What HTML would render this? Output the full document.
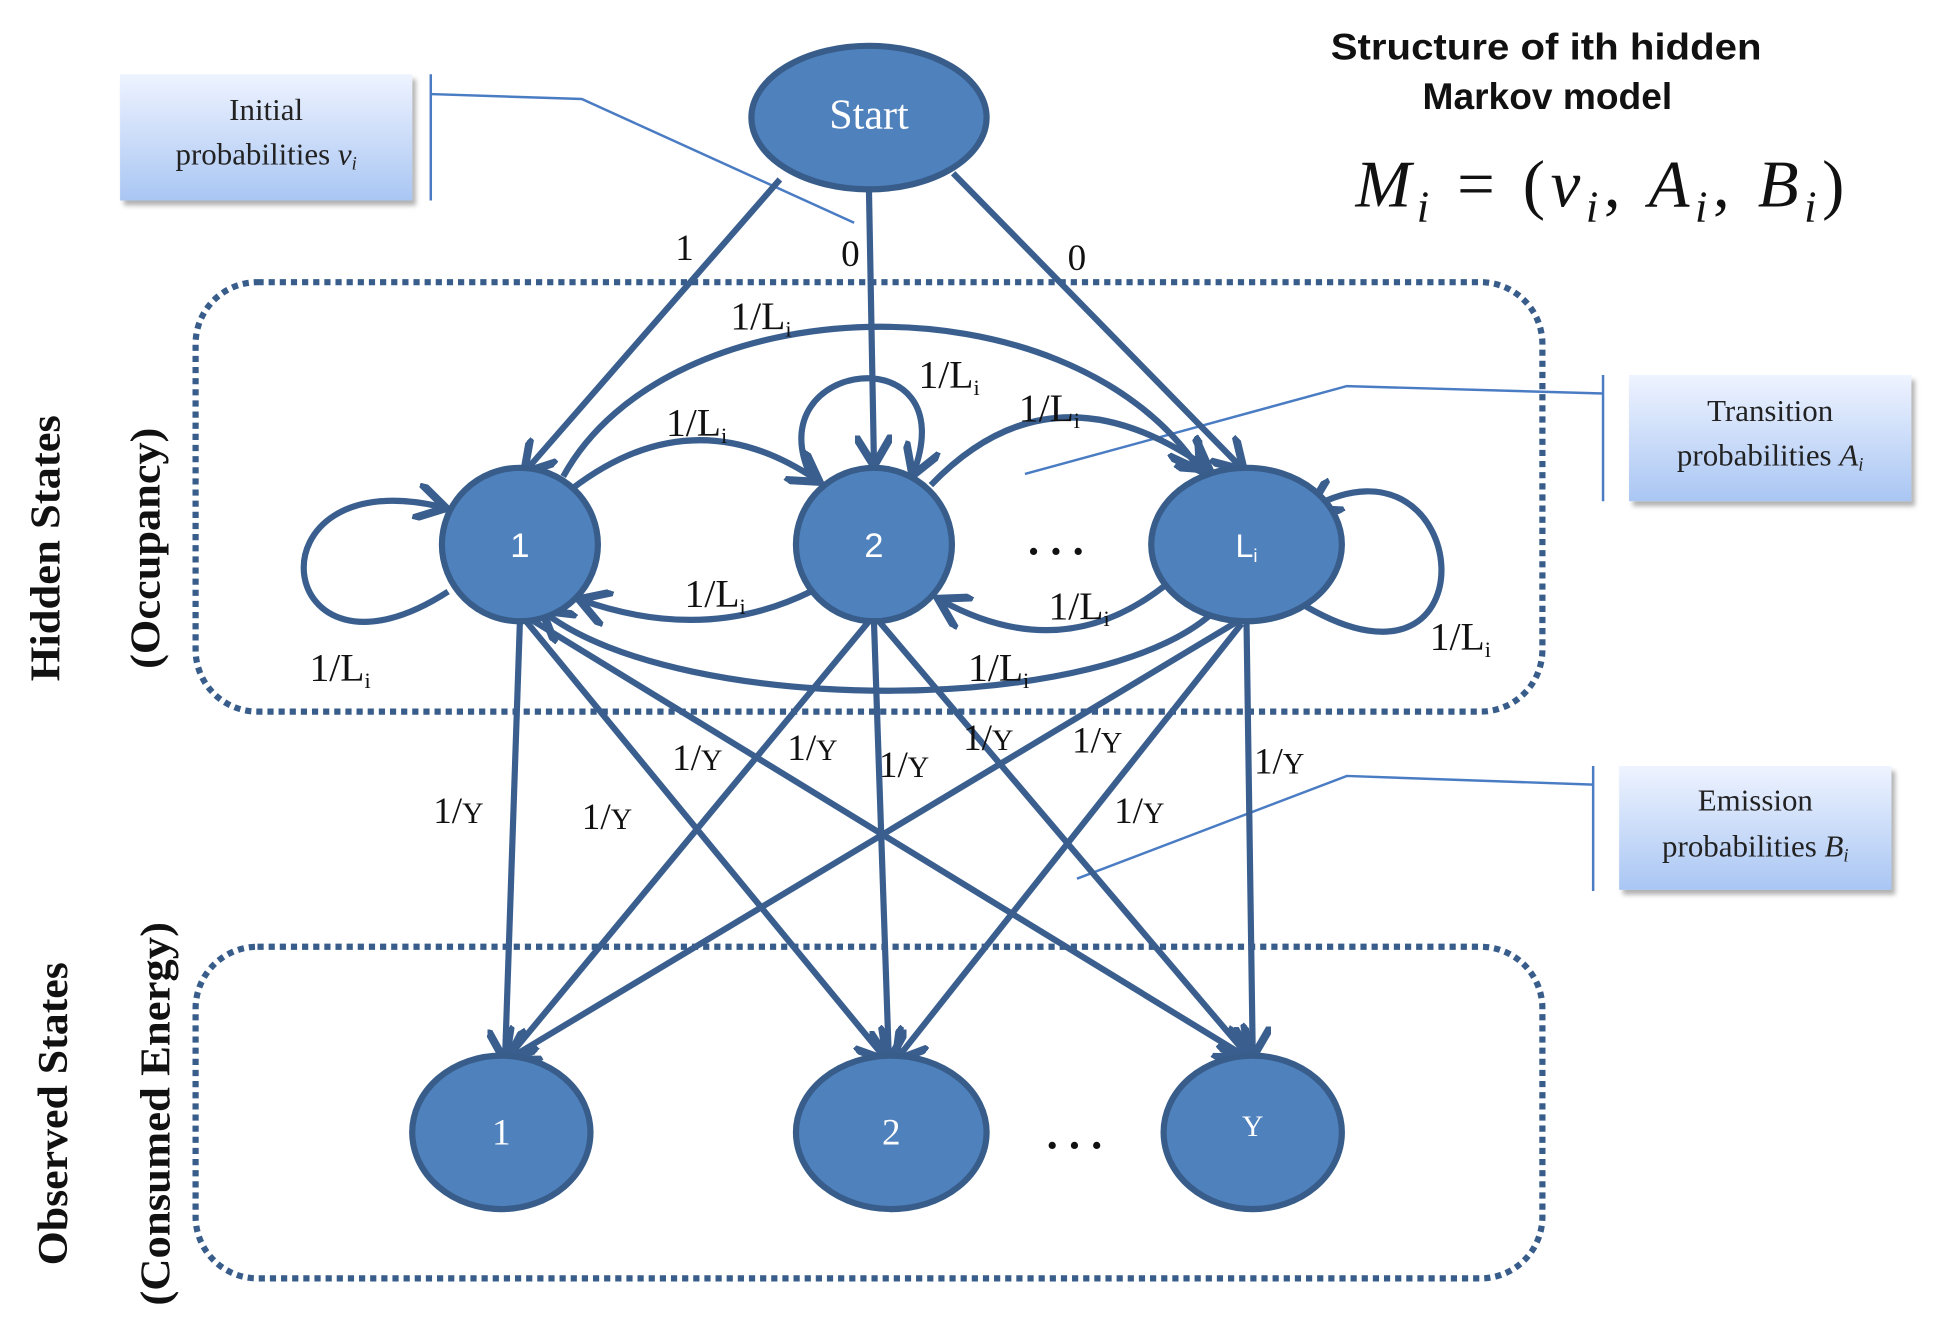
<!DOCTYPE html>
<html><head><meta charset="utf-8"><style>html,body{margin:0;padding:0;background:#fff}svg{display:block}</style></head>
<body>
<svg width="1941" height="1318" viewBox="0 0 1568 1065" preserveAspectRatio="none" xmlns="http://www.w3.org/2000/svg">
<defs>
<linearGradient id="g" x1="0" y1="0" x2="0" y2="1"><stop offset="0" stop-color="#eef3ff"/><stop offset="1" stop-color="#a9c6f3"/></linearGradient>
<marker id="a" markerWidth="6" markerHeight="6" refX="4.5" refY="3" orient="auto" markerUnits="strokeWidth"><path d="M0,0 L5,3 L0,6" fill="none" stroke="#3a5f8f" stroke-width="1.3"/></marker>
<filter id="s" x="-10%" y="-10%" width="130%" height="130%"><feDropShadow dx="3" dy="4" stdDeviation="2" flood-color="#000" flood-opacity="0.3"/></filter>
</defs>
<g fill="none" stroke="#385d8a" stroke-width="5" stroke-dasharray="5 4">
<rect x="158" y="228" width="1088" height="347" rx="50"/>
<rect x="158" y="765" width="1088" height="268" rx="50"/>
</g>
<g stroke="#4a7cc4" stroke-width="2" fill="none">
<line x1="348" y1="60" x2="348" y2="162"/><polyline points="348,76 470,80 690,180"/>
<line x1="1295" y1="303" x2="1295" y2="405"/><polyline points="1295,318 1088,312 828,383"/>
<line x1="1287" y1="619" x2="1287" y2="720"/><polyline points="1287,634 1088,627 870,710"/>
</g>
<g filter="url(#s)" fill="url(#g)">
<rect x="97" y="60" width="236" height="102"/>
<rect x="1316" y="303" width="228" height="102"/>
<rect x="1308" y="619" width="220" height="100"/>
</g>
<g font-family="Liberation Serif, serif" font-size="25" fill="#222" text-anchor="middle">
<text x="215" y="97">Initial</text><text x="215" y="133">probabilities <tspan font-style="italic">v</tspan><tspan font-style="italic" font-size="15" dy="4">i</tspan></text>
<text x="1430" y="340">Transition</text><text x="1430" y="376">probabilities <tspan font-style="italic">A</tspan><tspan font-style="italic" font-size="15" dy="4">i</tspan></text>
<text x="1418" y="655">Emission</text><text x="1418" y="692">probabilities <tspan font-style="italic">B</tspan><tspan font-style="italic" font-size="15" dy="4">i</tspan></text>
</g>
<g font-family="Liberation Sans, sans-serif" font-weight="bold" font-size="30" fill="#111" text-anchor="middle">
<text x="1249" y="48" textLength="348" lengthAdjust="spacingAndGlyphs">Structure of ith hidden</text><text x="1250" y="88">Markov model</text>
</g>
<text x="1095" y="167" font-family="Liberation Serif, serif" font-style="italic" font-size="54" fill="#111" textLength="395" lengthAdjust="spacing">M<tspan font-size="36" dy="12">i</tspan><tspan dy="-12" font-style="normal"> = (</tspan>v<tspan font-size="36" dy="12">i</tspan><tspan dy="-12" font-style="normal">, </tspan>A<tspan font-size="36" dy="12">i</tspan><tspan dy="-12" font-style="normal">, </tspan>B<tspan font-size="36" dy="12">i</tspan><tspan dy="-12" font-style="normal">)</tspan></text>
<g fill="none" stroke="#3a5f8f" stroke-width="5" marker-end="url(#a)">
<line x1="630" y1="145" x2="425" y2="380"/>
<line x1="702" y1="155" x2="706" y2="374"/>
<line x1="770" y1="140" x2="1003" y2="378"/>
<path d="M362,478 C220,570 195,370 358,410"/>
<path d="M462,395 Q560,320 660,388"/>
<path d="M655,385 C610,290 780,270 738,382"/>
<path d="M752,392 Q850,290 975,378"/>
<path d="M455,385 C540,230 860,220 968,378"/>
<path d="M1055,490 C1210,580 1190,340 1060,410"/>
<path d="M655,478 Q570,520 470,485"/>
<path d="M945,470 Q860,540 760,485"/>
<path d="M985,490 C900,580 550,580 440,495"/>
<line x1="420" y1="502" x2="408" y2="855"/>
<line x1="425" y1="502" x2="715" y2="855"/>
<line x1="428" y1="500" x2="1005" y2="853"/>
<line x1="702" y1="502" x2="410" y2="855"/>
<line x1="706" y1="502" x2="718" y2="855"/>
<line x1="710" y1="502" x2="1008" y2="853"/>
<line x1="1000" y1="502" x2="412" y2="855"/>
<line x1="1003" y1="504" x2="725" y2="855"/>
<line x1="1007" y1="504" x2="1012" y2="852"/>
</g>
<g fill="#4f81bd" stroke="#385d8a" stroke-width="5">
<ellipse cx="702" cy="95" rx="95" ry="58"/>
<ellipse cx="420" cy="440" rx="63" ry="62"/>
<ellipse cx="706" cy="440" rx="63" ry="62"/>
<ellipse cx="1007" cy="440" rx="77" ry="62"/>
<ellipse cx="405" cy="915" rx="72" ry="62"/>
<ellipse cx="720" cy="915" rx="77" ry="62"/>
<ellipse cx="1012" cy="915" rx="72" ry="62"/>
</g>
<g font-family="Liberation Serif, serif" font-size="30" fill="#fff" text-anchor="middle">
<text x="702" y="104" font-size="34">Start</text>
<text x="420" y="450" font-family="Liberation Sans, sans-serif" font-size="28">1</text>
<text x="706" y="450" font-family="Liberation Sans, sans-serif" font-size="28">2</text>
<text x="1007" y="450" font-family="Liberation Sans, sans-serif" font-size="26">L<tspan font-size="15" dy="4">i</tspan></text>
<text x="405" y="925">1</text><text x="720" y="925">2</text><text x="1012" y="918" font-size="24">Y</text>
</g>
<g font-family="Liberation Serif, serif" font-size="36" fill="#111" text-anchor="middle" font-weight="bold">
<text x="853" y="448">. . .</text><text x="868" y="928">. . .</text>
</g>
<g font-family="Liberation Serif, serif" font-size="30" fill="#111" text-anchor="middle">
<text x="553" y="210">1</text><text x="687" y="215">0</text><text x="870" y="218">0</text>
</g>
<g font-family="Liberation Serif, serif" font-size="32" fill="#111">
<text x="590" y="266">1/L<tspan font-size="18" dy="6">i</tspan></text>
<text x="742" y="313">1/L<tspan font-size="18" dy="6">i</tspan></text>
<text x="538" y="352">1/L<tspan font-size="18" dy="6">i</tspan></text>
<text x="823" y="340">1/L<tspan font-size="18" dy="6">i</tspan></text>
<text x="553" y="490">1/L<tspan font-size="18" dy="6">i</tspan></text>
<text x="847" y="500">1/L<tspan font-size="18" dy="6">i</tspan></text>
<text x="250" y="550">1/L<tspan font-size="18" dy="6">i</tspan></text>
<text x="782" y="550">1/L<tspan font-size="18" dy="6">i</tspan></text>
<text x="1155" y="525">1/L<tspan font-size="18" dy="6">i</tspan></text>
</g>
<g font-family="Liberation Serif, serif" font-size="30" fill="#111">
<text x="350" y="665">1/<tspan font-size="24">Y</tspan></text>
<text x="470" y="670">1/<tspan font-size="24">Y</tspan></text>
<text x="543" y="622">1/<tspan font-size="24">Y</tspan></text>
<text x="636" y="614">1/<tspan font-size="24">Y</tspan></text>
<text x="710" y="628">1/<tspan font-size="24">Y</tspan></text>
<text x="778" y="606">1/<tspan font-size="24">Y</tspan></text>
<text x="866" y="608">1/<tspan font-size="24">Y</tspan></text>
<text x="900" y="665">1/<tspan font-size="24">Y</tspan></text>
<text x="1013" y="625">1/<tspan font-size="24">Y</tspan></text>
</g>
<g font-family="Liberation Serif, serif" font-weight="bold" font-size="34" fill="#111" text-anchor="middle">
<text transform="translate(48,443) rotate(-90)" textLength="215" lengthAdjust="spacingAndGlyphs">Hidden States</text>
<text transform="translate(129,443) rotate(-90)" textLength="195" lengthAdjust="spacingAndGlyphs">(Occupancy)</text>
<text transform="translate(54,900) rotate(-90)" textLength="245" lengthAdjust="spacingAndGlyphs">Observed States</text>
<text transform="translate(137,900) rotate(-90)" textLength="310" lengthAdjust="spacingAndGlyphs">(Consumed Energy)</text>
</g>
</svg>
</body></html>
